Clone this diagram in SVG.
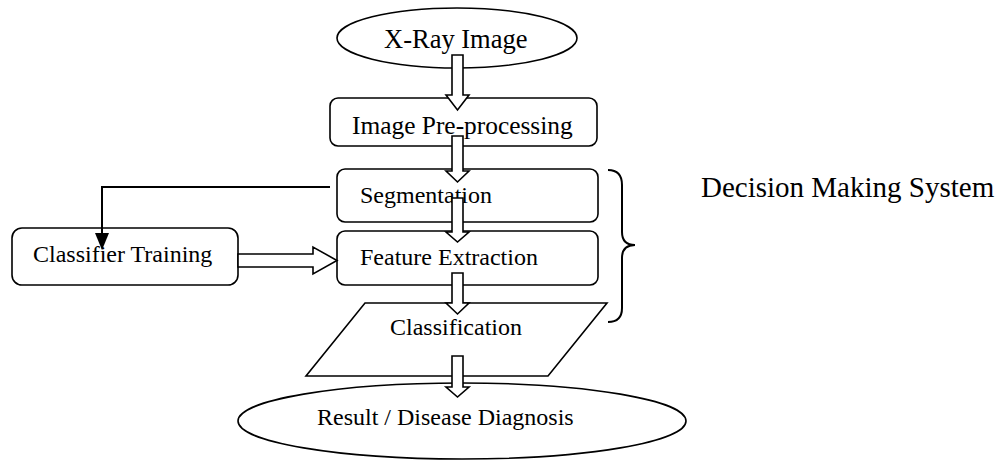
<svg xmlns="http://www.w3.org/2000/svg" width="1004" height="461" viewBox="0 0 1004 461">
<style>
.s{fill:#fff;stroke:#000;stroke-width:1.6}
.t{font-family:"Liberation Serif","Times New Roman",serif;font-size:24px;fill:#000}
.ln{fill:none;stroke:#000;stroke-width:2}
.ba{fill:#fff;stroke:#000;stroke-width:1.6;stroke-linejoin:miter}
</style>
<rect width="1004" height="461" fill="#fff"/>
<g id="xray"><ellipse class="s" cx="457" cy="38" rx="120" ry="30"/><text class="t" x="384" y="48" style="font-size:26.5px">X-Ray Image</text></g>
<g id="preproc"><rect class="s" x="330" y="98" width="267" height="48" rx="8"/><text class="t" x="352" y="134" style="font-size:25.4px">Image Pre-processing</text></g>
<g id="segmentation"><rect class="s" x="337" y="169" width="261" height="53" rx="8"/><text class="t" x="360" y="203">Segmentation</text></g>
<g id="feature"><rect class="s" x="337" y="231" width="261" height="54" rx="8"/><text class="t" x="360" y="265">Feature Extraction</text></g>
<g id="classification"><polygon class="s" points="365,303 607,303 548,376 306,376"/><text class="t" x="390" y="335">Classification</text></g>
<g id="result"><ellipse class="s" cx="462" cy="421" rx="224" ry="38"/><text class="t" x="317" y="425">Result / Disease Diagnosis</text></g>
<g id="training"><rect class="s" x="12" y="228" width="226" height="57" rx="10"/><text class="t" x="33" y="262">Classifier Training</text></g>
<g id="dms"><path class="ln" d="M608,170 Q622,170 622,185 L622,232 Q622,245 635,245 Q622,245 622,258 L622,308 Q622,322 608,322"/><text class="t" x="701" y="197" style="font-size:29px">Decision Making System</text></g>
<g id="connectors">
<polygon class="ba" points="452,55 463,55 463,95 469,95 457.5,110 446,95 452,95"/>
<polygon class="ba" points="452,136 463,136 463,171 469,171 457.5,182 446,171 452,171"/>
<polygon class="ba" points="452,198 463,198 463,232 469,232 457.5,242 446,232 452,232"/>
<polygon class="ba" points="452,273 463,273 463,303 469,303 457.5,314 446,303 452,303"/>
<polygon class="ba" points="452,356 463,356 463,387 469,387 457.5,397 446,387 452,387"/>
<polygon class="ba" points="238,254 313,254 313,247 337,260.5 313,274 313,267 238,267"/>
<path class="ln" d="M330,187 L102,187 L102,234"/>
<path d="M95,233 L109,233 L102,250 Z" fill="#000"/>
</g>
</svg>
